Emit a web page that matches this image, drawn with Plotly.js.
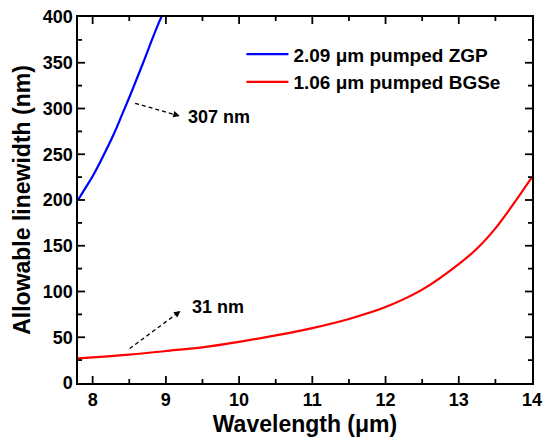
<!DOCTYPE html>
<html>
<head>
<meta charset="utf-8">
<script src="https://cdn.plot.ly/plotly-3.0.1.min.js"></script>
<style>html,body{margin:0;padding:0;background:#fff;}#chart{width:550px;height:447px;}</style>
</head>
<body>
<div id="chart"></div>
<script>
var zgpWavelength = [7.8, 7.9, 8.0, 8.1, 8.2, 8.3, 8.4, 8.5, 8.6, 8.7, 8.8, 8.9, 8.95];
var zgpLinewidth  = [200, 213, 226, 241, 257, 274, 293, 312, 332, 352, 373, 393, 402];
var bgseWavelength = [7.8, 8.0, 8.5, 9.0, 9.5, 10.0, 10.5, 11.0, 11.5, 12.0, 12.5, 13.0, 13.25, 13.5, 13.75, 14.0];
var bgseLinewidth  = [27, 28, 31, 35, 39, 45, 52, 60, 70, 83, 102, 130, 147, 169, 196, 225];
var seriesNames = ['2.09 \u03bcm pumped ZGP', '1.06 \u03bcm pumped BGSe'];
var annotationLabels = ['307 nm', '31 nm'];
var xMajorTicks = [8, 9, 10, 11, 12, 13];
var xMinorTicks = [8.5, 9.5, 10.5, 11.5, 12.5, 13.5];
var yMajorTicks = [50, 100, 150, 200, 250, 300, 350];
var yMinorTicks = [25, 75, 125, 175, 225, 275, 325, 375];

var F = 'Arial, "Liberation Sans", sans-serif';
var traces = [
  {x: zgpWavelength, y: zgpLinewidth, mode: 'lines', name: seriesNames[0],
   line: {color: '#0000ff', width: 2.2, shape: 'spline', smoothing: 0.8}},
  {x: bgseWavelength, y: bgseLinewidth, mode: 'lines', name: seriesNames[1],
   line: {color: '#ff0000', width: 2.2, shape: 'spline', smoothing: 0.8}}
];

var tickLine = {color: '#000', width: 1.8};
var tickShapes = [];
function addXTicks(vals, len) {
  vals.forEach(function (v) {
    tickShapes.push({type: 'line', layer: 'above', xref: 'x', yref: 'paper', ysizemode: 'pixel', yanchor: 0,
      x0: v, x1: v, y0: 0, y1: len, line: tickLine});
    tickShapes.push({type: 'line', layer: 'above', xref: 'x', yref: 'paper', ysizemode: 'pixel', yanchor: 1,
      x0: v, x1: v, y0: 0, y1: -len, line: tickLine});
  });
}
function addYTicks(vals, len) {
  vals.forEach(function (v) {
    tickShapes.push({type: 'line', layer: 'above', xref: 'paper', yref: 'y', xsizemode: 'pixel', xanchor: 0,
      x0: 0, x1: len, y0: v, y1: v, line: tickLine});
    tickShapes.push({type: 'line', layer: 'above', xref: 'paper', yref: 'y', xsizemode: 'pixel', xanchor: 1,
      x0: 0, x1: -len, y0: v, y1: v, line: tickLine});
  });
}
addXTicks(xMajorTicks, 7);
addXTicks(xMinorTicks, 4);
addYTicks(yMajorTicks, 7);
addYTicks(yMinorTicks, 4);

var axisCommon = {
  showline: true, linecolor: '#000', linewidth: 1.6, mirror: true,
  ticks: '', showgrid: false, zeroline: false,
  tickfont: {family: F, size: 18, color: '#000', weight: 'bold'}
};

var layout = {
  width: 550, height: 447,
  margin: {l: 78, r: 18, t: 17, b: 64},
  paper_bgcolor: '#fff', plot_bgcolor: '#fff',
  showlegend: true,
  legend: {x: 0.36, y: 0.95, xanchor: 'left', yanchor: 'top', bgcolor: 'rgba(0,0,0,0)',
           font: {family: F, size: 19, color: '#000', weight: 'bold'}, itemwidth: 42, tracegroupgap: 0},
  xaxis: Object.assign({}, axisCommon, {
    range: [7.8, 14], dtick: 1, tick0: 8, tickmode: 'linear',
    title: {text: 'Wavelength (\u03bcm)', font: {family: F, size: 23, color: '#000', weight: 'bold'}, standoff: 6}
  }),
  yaxis: Object.assign({}, axisCommon, {
    range: [0, 400], dtick: 50, tick0: 0, tickmode: 'linear',
    title: {text: 'Allowable linewidth (nm)', font: {family: F, size: 23, color: '#000', weight: 'bold'}, standoff: 6}
  }),
  shapes: [
    {type: 'line', xref: 'x', yref: 'y', x0: 8.58, y0: 305.7, x1: 9.17, y1: 292.2,
     line: {color: '#000', width: 1.3, dash: '4px,3px'}},
    {type: 'line', xref: 'x', yref: 'y', x0: 8.505, y0: 37.6, x1: 9.18, y1: 77.5,
     line: {color: '#000', width: 1.3, dash: '4px,3px'}}
  ].concat(tickShapes),
  annotations: [
    {x: 9.19, y: 291.8, ax: 9.12, ay: 293.4, axref: 'x', ayref: 'y', xref: 'x', yref: 'y',
     showarrow: true, arrowhead: 2, arrowsize: 1, arrowwidth: 1.3, arrowcolor: '#000', text: ''},
    {x: 9.20, y: 78.8, ax: 9.14, ay: 75.2, axref: 'x', ayref: 'y', xref: 'x', yref: 'y',
     showarrow: true, arrowhead: 2, arrowsize: 1, arrowwidth: 1.3, arrowcolor: '#000', text: ''},
    {x: 9.72, y: 290.6, xref: 'x', yref: 'y', showarrow: false, text: annotationLabels[0],
     font: {family: F, size: 18, color: '#000', weight: 'bold'}},
    {x: 9.71, y: 83.1, xref: 'x', yref: 'y', showarrow: false, text: annotationLabels[1],
     font: {family: F, size: 18, color: '#000', weight: 'bold'}}
  ]
};

Plotly.newPlot('chart', traces, layout, {displayModeBar: false, staticPlot: true});
</script>
</body>
</html>
